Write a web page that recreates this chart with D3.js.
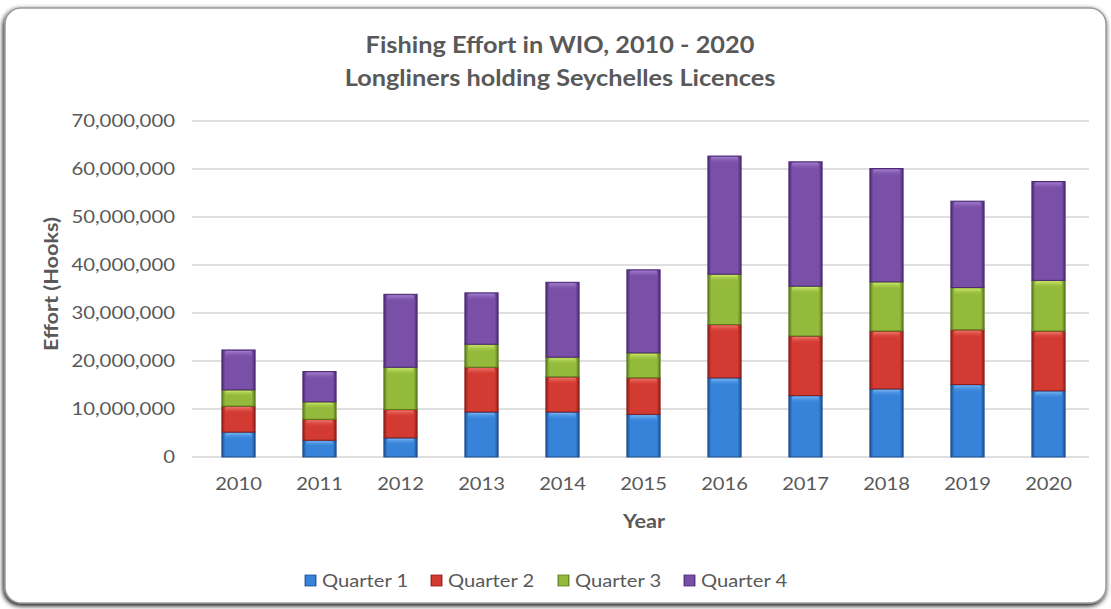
<!DOCTYPE html>
<html><head><meta charset="utf-8">
<script src="https://cdn.jsdelivr.net/npm/d3@7"></script>
<style>
html,body{margin:0;padding:0;background:#fff;}
svg{display:block;font-family:Lato, "Open Sans", sans-serif;}
</style></head>
<body>
<svg id="chart" width="1111" height="609"></svg>
<script>
const years = ["2010","2011","2012","2013","2014","2015","2016","2017","2018","2019","2020"];
const seriesNames = ["Quarter 1","Quarter 2","Quarter 3","Quarter 4"];
const q1 = [5200000, 3500000, 4000000, 9400000, 9400000, 8900000, 16500000, 12800000, 14200000, 15100000, 13800000];
const q2 = [5400000, 4350000, 5900000, 9300000, 7300000, 7600000, 11100000, 12400000, 12050000, 11400000, 12450000];
const q3 = [3400000, 3650000, 8800000, 4800000, 4100000, 5200000, 10500000, 10400000, 10250000, 8800000, 10550000];
const q4 = [8300000, 6300000, 15200000, 10700000, 15600000, 17300000, 24600000, 25900000, 23600000, 18000000, 20600000];
const yTicks = [0,10000000,20000000,30000000,40000000,50000000,60000000,70000000];
const titleLines = ["Fishing Effort in WIO, 2010 - 2020","Longliners holding Seychelles Licences"];
const xTitle = "Year";
const yTitle = "Effort (Hooks)";
const colors = ["#3783da","#d33a31","#94ba3c","#7a4fa8"];
const darks  = ["#1d4f8f","#8e1f1b","#5b7a1f","#4b2a73"];
const lights = ["#7ab8f2","#f07a70","#d0ec6a","#a783d0"];

const svg = d3.select("#chart");
const defs = svg.append("defs");

// horizontally stretch text (reference glyphs are wider than Lato)
function stretch(sel, f){
  sel.each(function(){
    const w = this.getComputedTextLength();
    d3.select(this).attr("textLength", w*f).attr("lengthAdjust","spacingAndGlyphs");
  });
}

// frame with shadow
const filt = defs.append("filter").attr("id","sh").attr("x","-5%").attr("y","-5%").attr("width","110%").attr("height","110%");
filt.append("feGaussianBlur").attr("in","SourceAlpha").attr("stdDeviation",2.5);
filt.append("feOffset").attr("dx",-1).attr("dy",1.5).attr("result","b");
const fm = filt.append("feMerge");
fm.append("feMergeNode").attr("in","b");
fm.append("feMergeNode").attr("in","SourceGraphic");
svg.append("rect").attr("x",5).attr("y",8).attr("width",1101).attr("height",595)
  .attr("rx",16).attr("fill","#fff").attr("stroke","#9a9a9a").attr("stroke-width",1.5)
  .attr("filter","url(#sh)");

// gradients for bevelled bars
colors.forEach((c,i)=>{
  const g = defs.append("linearGradient").attr("id","g"+i).attr("x1","0").attr("x2","1").attr("y1","0").attr("y2","0");
  g.append("stop").attr("offset","0%").attr("stop-color",darks[i]);
  g.append("stop").attr("offset","10%").attr("stop-color",c);
  g.append("stop").attr("offset","90%").attr("stop-color",c);
  g.append("stop").attr("offset","100%").attr("stop-color",darks[i]);
  const v = defs.append("linearGradient").attr("id","v"+i).attr("x1","0").attr("x2","0").attr("y1","0").attr("y2","1");
  v.append("stop").attr("offset","0%").attr("stop-color",lights[i]).attr("stop-opacity",0.9);
  v.append("stop").attr("offset","100%").attr("stop-color",c).attr("stop-opacity",0);
});

const margin = {left:198, right:1089, top:121, bottom:457};
const x = d3.scaleBand().domain(years).range([margin.left, margin.right]).paddingInner(0.59).paddingOuter(0.295);
const y = d3.scaleLinear().domain([0,70000000]).range([margin.bottom, margin.top]);

// gridlines
svg.append("g").selectAll("line").data(yTicks).join("line")
  .attr("x1",margin.left-6).attr("x2",margin.right).attr("y1",d=>y(d)).attr("y2",d=>y(d))
  .attr("stroke","#d4d4d4").attr("stroke-width",1.5);

// y axis labels
const yAxis = d3.axisLeft(y).tickValues(yTicks).tickFormat(d3.format(",")).tickSize(0).tickPadding(0);
const ya = svg.append("g").attr("transform",`translate(${margin.left-23},0)`).call(yAxis);
ya.select(".domain").remove();
ya.selectAll("text").attr("font-size",18).attr("fill","#595959").attr("font-family","Lato, sans-serif").call(stretch,1.13);

// x axis labels
const xAxis = d3.axisBottom(x).tickSize(0).tickPadding(0);
const xa = svg.append("g").attr("transform",`translate(0,${margin.bottom+20})`).call(xAxis);
xa.select(".domain").remove();
xa.selectAll("text").attr("font-size",18).attr("fill","#595959").attr("font-family","Lato, sans-serif").call(stretch,1.12);

// stacked data
const rows = years.map((yr,i)=>({year:yr, "Quarter 1":q1[i], "Quarter 2":q2[i], "Quarter 3":q3[i], "Quarter 4":q4[i]}));
const stack = d3.stack().keys(seriesNames)(rows);

const layers = svg.append("g").selectAll("g").data(stack).join("g");
layers.each(function(layer, li){
  const g = d3.select(this);
  g.selectAll("rect.b").data(layer).join("rect").attr("class","b")
    .attr("x",d=>x(d.data.year)).attr("width",x.bandwidth())
    .attr("y",d=>y(d[1])).attr("height",d=>y(d[0])-y(d[1]))
    .attr("fill",`url(#g${li})`).attr("stroke",darks[li]).attr("stroke-width",1);
  g.selectAll("rect.h").data(layer).join("rect").attr("class","h")
    .attr("x",d=>x(d.data.year)+3).attr("width",x.bandwidth()-6)
    .attr("y",d=>y(d[1])+1).attr("height",d=>Math.min(7,(y(d[0])-y(d[1]))/3))
    .attr("fill",`url(#v${li})`).attr("rx",2);
});

// titles
svg.append("g").selectAll("text").data(titleLines).join("text")
  .attr("x",560).attr("y",(d,i)=>53+i*33).attr("text-anchor","middle")
  .attr("font-size",23).attr("font-weight","bold").attr("fill","#595959").text(d=>d)
  .call(stretch,1.1);

const yt = svg.append("text").attr("x",644).attr("y",528).attr("text-anchor","middle")
  .attr("font-size",18).attr("font-weight","bold").attr("fill","#595959").text(xTitle);
yt.call(stretch,1.2);

svg.append("text").attr("transform","translate(58,284) rotate(-90)").attr("text-anchor","middle")
  .attr("font-size",18).attr("font-weight","bold").attr("fill","#595959").text(yTitle)
  .call(stretch,1.2);

// legend
const legX = [305, 431, 558, 684];
const leg = svg.append("g").selectAll("g").data(seriesNames).join("g")
  .attr("transform",(d,i)=>`translate(${legX[i]},581)`);
leg.append("rect").attr("x",0).attr("y",-6).attr("width",11).attr("height",11)
  .attr("fill",(d,i)=>`url(#g${i})`).attr("stroke",(d,i)=>darks[i]).attr("stroke-width",0.8);
leg.append("text").attr("x",17).attr("y",0).attr("dy","0.35em")
  .attr("font-size",18).attr("fill","#595959").text(d=>d).call(stretch,1.12);
</script>
</body></html>
